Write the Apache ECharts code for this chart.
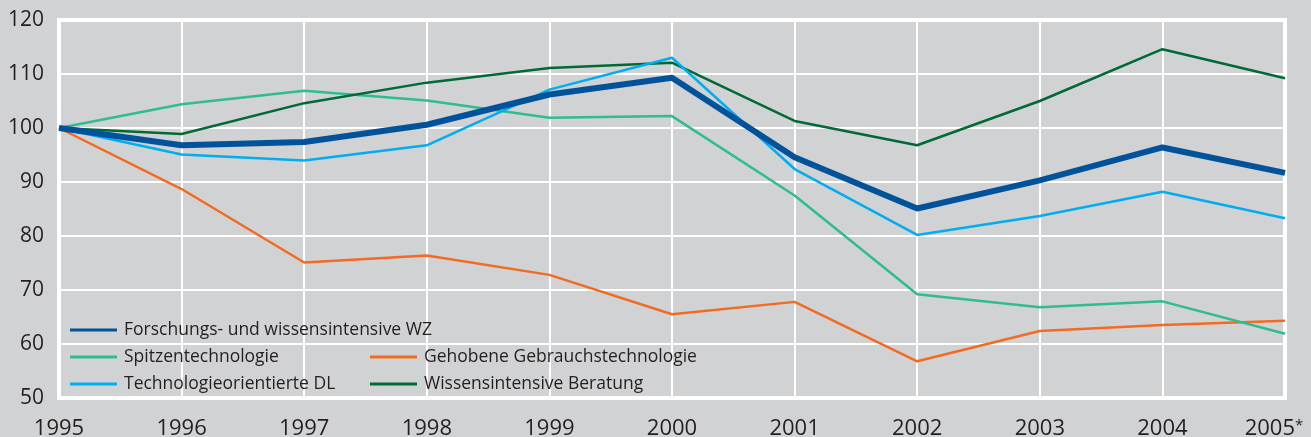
<!DOCTYPE html>
<html>
<head>
<meta charset="utf-8">
<script src="https://cdn.jsdelivr.net/npm/echarts@6/dist/echarts.min.js"></script>
<style>
html,body{margin:0;padding:0;background:#d1d2d4;}
#c{width:1311px;height:437px;}
</style>
</head>
<body>
<div id="c"></div>
<script>
const years = ['1995','1996','1997','1998','1999','2000','2001','2002','2003','2004','2005'];
const yearLabels = ['1995','1996','1997','1998','1999','2000','2001','2002','2003','2004','2005*'];
const yTicks = [50, 60, 70, 80, 90, 100, 110, 120];

const forschung = [100, 96.8, 97.4, 100.6, 106.2, 109.3, 94.6, 85.1, 90.3, 96.4, 91.7];
const spitzen   = [100, 104.4, 106.9, 105.1, 101.9, 102.2, 87.5, 69.2, 66.8, 67.9, 61.9];
const techDL    = [100, 95.1, 94.0, 96.8, 107.1, 113.0, 92.4, 80.2, 83.7, 88.2, 83.3];
const gehobene  = [100, 88.7, 75.1, 76.4, 72.8, 65.5, 67.8, 56.8, 62.4, 63.5, 64.3];
const beratung  = [100, 98.9, 104.6, 108.4, 111.1, 112.1, 101.3, 96.8, 105.0, 114.6, 109.2];

const names = ['Forschungs- und wissensintensive WZ','Spitzentechnologie','Technologieorientierte DL','Gehobene Gebrauchstechnologie','Wissensintensive Beratung'];
const colors = ['#00539b','#2ebd8e','#00aeef','#f26b21','#006a35'];

const txt = '#231f20';
const legendFont = {fontFamily:'"Open Sans", sans-serif', fontSize:17.5, color:txt, lineHeight:20, padding:[0,0,0,2]};

function legendBox(data, left, top){
  return {
    data: data, left: left, top: top, orient: 'vertical', padding: 0,
    itemWidth: 47, itemHeight: 3, itemGap: 7, icon: 'rect',
    textStyle: legendFont, selectedMode: false
  };
}

const chart = echarts.init(document.getElementById('c'), null, {renderer:'canvas'});
chart.setOption({
  backgroundColor: '#d1d2d4',
  animation: false,
  grid: {left: 59, right: 26, top: 20, bottom: 39, containLabel: false, outerBoundsMode: 'none',
         show: true, borderColor: '#ffffff', borderWidth: 4, backgroundColor: '#d1d2d4'},
  legend: [
    legendBox([names[0]], 70, 320),
    legendBox([names[1], names[2]], 70, 347),
    legendBox([names[3], names[4]], 370, 347)
  ],
  xAxis: {
    type: 'category', data: years, boundaryGap: false,
    axisLine: {show: false}, axisTick: {show: false},
    splitLine: {show: true, interval: 0, lineStyle: {color: '#ffffff', width: 2}},
    axisLabel: {
      interval: 0, hideOverlap: false,
      margin: 18, color: txt, fontFamily: '"Open Sans", sans-serif', fontSize: 22, lineHeight: 26,
      formatter: function(v, i){
        const l = yearLabels[i];
        if (l.endsWith('*')) return '{m|' + l.slice(0, -1) + '}{s|*}{p|}';
        return l;
      },
      rich: {
        m: {fontSize: 22, lineHeight: 26, color: txt, fontFamily: '"Open Sans", sans-serif'},
        s: {fontSize: 15, lineHeight: 12, color: txt, fontFamily: '"Open Sans", sans-serif', padding: [0,0,6,0]},
        p: {width: 22, lineHeight: 12}
      }
    }
  },
  yAxis: {
    type: 'value', min: yTicks[0], max: yTicks[yTicks.length-1], interval: 10,
    axisLine: {show: false}, axisTick: {show: false},
    splitLine: {show: true, lineStyle: {color: '#ffffff', width: 2}},
    axisLabel: {margin: 15, color: txt, fontFamily: '"Open Sans", sans-serif', fontSize: 21}
  },
  series: [
    {name: names[3], type: 'line', data: gehobene, symbol: 'none', lineStyle: {width: 2.5, color: colors[3]}, itemStyle: {color: colors[3]}},
    {name: names[1], type: 'line', data: spitzen, symbol: 'none', lineStyle: {width: 2.5, color: colors[1]}, itemStyle: {color: colors[1]}},
    {name: names[4], type: 'line', data: beratung, symbol: 'none', lineStyle: {width: 2.5, color: colors[4]}, itemStyle: {color: colors[4]}},
    {name: names[2], type: 'line', data: techDL, symbol: 'none', lineStyle: {width: 2.5, color: colors[2]}, itemStyle: {color: colors[2]}},
    {name: names[0], type: 'line', data: forschung, symbol: 'none', lineStyle: {width: 6, color: colors[0]}, itemStyle: {color: colors[0]}}
  ]
});
</script>
</body>
</html>
